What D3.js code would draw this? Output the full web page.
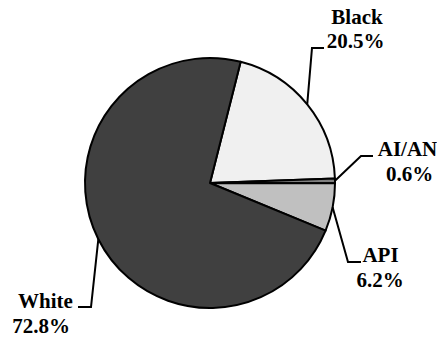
<!DOCTYPE html>
<html>
<head>
<meta charset="utf-8">
<script src="https://cdn.jsdelivr.net/npm/d3@7"></script>
<style>
  html, body { margin: 0; padding: 0; background: #fff; }
  svg { display: block; }
</style>
</head>
<body>
<svg id="chart" width="437" height="337"></svg>
<script>
const categories = ["Black", "AI/AN", "API", "White"];
const values = [20.5, 0.6, 6.2, 72.8];
const valueLabels = ["20.5%", "0.6%", "6.2%", "72.8%"];
const colors = ["#f0f0f0", "#808080", "#c0c0c0", "#404040"];

const W = 437, H = 337;
const cx = 210, cy = 183, R = 125;
const startDeg = 14.2;

// label layout (positions only)
const labelLayout = [
  { x1: 357, x2: 355.5, y1: 24, y2: 47.5, elbow: [312, 48], end: [324, 48] },
  { x1: 407.5, x2: 409.5, y1: 156, y2: 181, elbow: [361, 156], end: [373, 156] },
  { x1: 380.5, x2: 380, y1: 262, y2: 287, elbow: [348, 262], end: [361, 262] },
  { x1: 45.5, x2: 41, y1: 308, y2: 333, elbow: [91, 307], end: [78, 307] }
];

const svg = d3.select("#chart");
const g = svg.append("g").attr("transform", `translate(${cx},${cy})`);

const data = categories.map((c, i) => ({ cat: c, value: values[i], label: valueLabels[i], color: colors[i], layout: labelLayout[i] }));

const start = startDeg * Math.PI / 180;
const pie = d3.pie().value(d => d.value).sort(null)
  .startAngle(start).endAngle(start + 2 * Math.PI);
const arcs = pie(data);
const arc = d3.arc().innerRadius(0).outerRadius(R);

g.selectAll("path.slice").data(arcs).join("path")
  .attr("class", "slice")
  .attr("d", arc)
  .attr("fill", d => d.data.color)
  .attr("stroke", "#000")
  .attr("stroke-width", 2)
  .attr("stroke-linejoin", "round");

// leader lines
svg.selectAll("polyline.leader").data(arcs).join("polyline")
  .attr("class", "leader")
  .attr("points", d => {
    const a = (d.startAngle + d.endAngle) / 2;
    const px = cx + R * Math.sin(a), py = cy - R * Math.cos(a);
    const L = d.data.layout;
    return [[px, py], L.elbow, L.end].map(p => p.join(",")).join(" ");
  })
  .attr("fill", "none")
  .attr("stroke", "#000")
  .attr("stroke-width", 2);

// labels
const lbl = svg.selectAll("g.lbl").data(arcs).join("g").attr("class", "lbl");
function styleText(sel) {
  sel.attr("text-anchor", "middle")
    .style("font-family", '"Liberation Serif"')
    .style("font-weight", "bold")
    .style("font-size", "21px")
    .attr("fill", "#000");
}
lbl.append("text").attr("x", d => d.data.layout.x1).attr("y", d => d.data.layout.y1)
  .call(styleText).text(d => d.data.cat);
lbl.append("text").attr("x", d => d.data.layout.x2).attr("y", d => d.data.layout.y2)
  .call(styleText).text(d => d.data.label);
</script>
</body>
</html>
